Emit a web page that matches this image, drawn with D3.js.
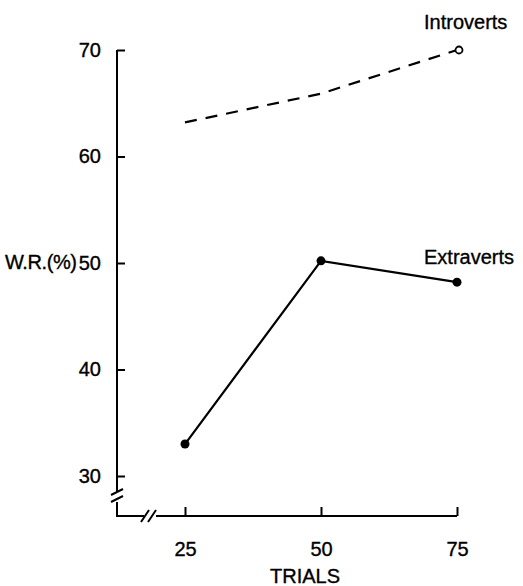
<!DOCTYPE html>
<html>
<head>
<meta charset="utf-8">
<script src="https://cdn.jsdelivr.net/npm/d3@7"></script>
<style>
  html, body { margin: 0; padding: 0; background: #fff; }
  svg { display: block; }
  text { font-family: "Liberation Sans", Arial, sans-serif; fill: #000; stroke: #000; stroke-width: 0.35; }
</style>
</head>
<body>
<svg id="chart" width="523" height="586"></svg>
<script>
// Word recall (%) over trials, by personality group
const trials = [25, 50, 75];
const extravertValues = [33.0, 50.2, 48.2];
const introvertValues = [63.2, 65.9, 70.0];
const yTicks = [30, 40, 50, 60, 70];
const xTicks = [25, 50, 75];

const svg = d3.select("#chart");
const axisX0 = 117;   // y axis position
const axisY0 = 516;   // x axis position

const x = d3.scaleLinear().domain([25, 75]).range([185, 457]);
const y = d3.scaleLinear().domain([30, 70]).range([476, 50]);

const ink = "#000";

// Y axis: ticks point inward, labels on the left
const gy = svg.append("g")
  .attr("transform", `translate(${axisX0},0)`)
  .call(d3.axisLeft(y).tickValues(yTicks).tickSizeInner(-8).tickSizeOuter(0).tickPadding(16));
gy.select(".domain").remove();
gy.selectAll(".tick line").attr("stroke", ink).attr("stroke-width", 2);
gy.selectAll(".tick text").attr("font-size", 20).attr("font-family", "Liberation Sans, Arial, sans-serif");

// X axis: ticks point upward
const gx = svg.append("g")
  .attr("transform", `translate(0,${axisY0})`)
  .call(d3.axisBottom(x).tickValues(xTicks).tickSizeInner(-9).tickSizeOuter(0).tickPadding(26));
gx.select(".domain").remove();
gx.selectAll(".tick line").attr("stroke", ink).attr("stroke-width", 2);
gx.selectAll(".tick text").attr("font-size", 20).attr("font-family", "Liberation Sans, Arial, sans-serif");

// Axis lines with break marks near the origin
const axes = svg.append("g").attr("stroke", ink).attr("stroke-width", 2).attr("fill", "none");
axes.append("line").attr("x1", axisX0).attr("x2", axisX0).attr("y1", y(70)).attr("y2", 492);
axes.append("line").attr("x1", axisX0).attr("x2", axisX0).attr("y1", 502).attr("y2", axisY0);
axes.append("line").attr("x1", axisX0 - 1).attr("x2", 144).attr("y1", axisY0).attr("y2", axisY0);
axes.append("line").attr("x1", 156).attr("x2", x(75)).attr("y1", axisY0).attr("y2", axisY0);
// break slashes on the y axis
axes.append("line").attr("x1", 111).attr("y1", 495).attr("x2", 123).attr("y2", 489);
axes.append("line").attr("x1", 111).attr("y1", 502).attr("x2", 123).attr("y2", 496);
// break slashes on the x axis
axes.append("line").attr("x1", 141).attr("y1", 522).attr("x2", 149).attr("y2", 510);
axes.append("line").attr("x1", 148).attr("y1", 522).attr("x2", 156).attr("y2", 510);

const line = d3.line().x((d, i) => x(trials[i])).y(d => y(d));

// Introverts: dashed line, open circle at the last trial
svg.append("path")
  .datum(introvertValues)
  .attr("d", line)
  .attr("fill", "none")
  .attr("stroke", ink)
  .attr("stroke-width", 2.2)
  .attr("stroke-dasharray", "12,9");
svg.append("circle")
  .attr("cx", x(trials[2]) + 2)
  .attr("cy", y(introvertValues[2]))
  .attr("r", 3.5)
  .attr("fill", "#fff")
  .attr("stroke", ink)
  .attr("stroke-width", 1.8);

// Extraverts: solid line with filled dots
svg.append("path")
  .datum(extravertValues)
  .attr("d", line)
  .attr("fill", "none")
  .attr("stroke", ink)
  .attr("stroke-width", 2.2);
svg.selectAll("circle.ext")
  .data(extravertValues)
  .join("circle")
  .attr("class", "ext")
  .attr("cx", (d, i) => x(trials[i]))
  .attr("cy", d => y(d))
  .attr("r", 4.5)
  .attr("fill", ink);

// Labels
svg.append("text").attr("x", 424).attr("y", 29).attr("font-size", 20).text("Introverts");
svg.append("text").attr("x", 424).attr("y", 264).attr("font-size", 20).text("Extraverts");
svg.append("text").attr("x", 5).attr("y", 269).attr("font-size", 20)
  .attr("letter-spacing", -0.4).text("W.R.(%)");
svg.append("text").attr("x", 305).attr("y", 583).attr("font-size", 20).attr("text-anchor", "middle").text("TRIALS");
</script>
</body>
</html>
